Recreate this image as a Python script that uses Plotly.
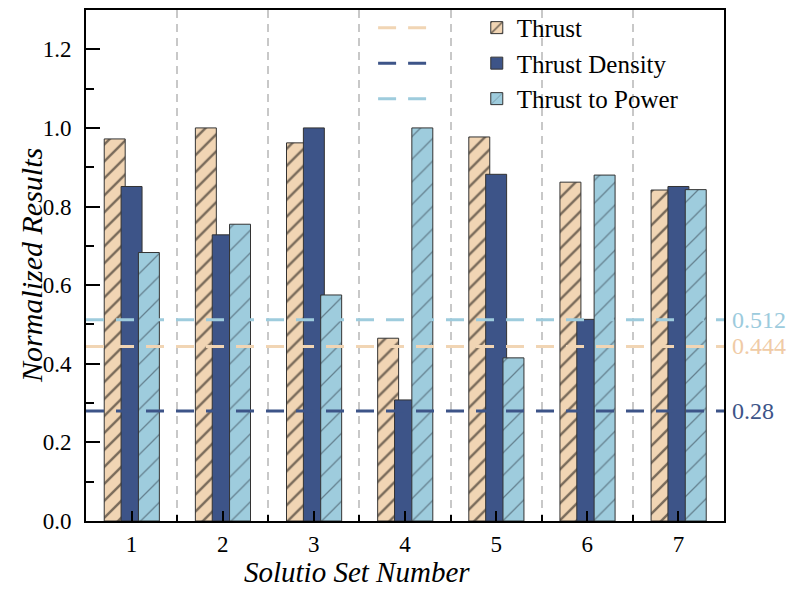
import plotly.graph_objects as go

categories = [1, 2, 3, 4, 5, 6, 7]
tick_labels = ["1", "2", "3", "4", "5", "6", "7"]
thrust = [0.972, 1.0, 0.962, 0.465, 0.977, 0.862, 0.842]
thrust_density = [0.851, 0.728, 1.0, 0.308, 0.882, 0.513, 0.851]
thrust_to_power = [0.683, 0.755, 0.575, 1.0, 0.415, 0.880, 0.843]
series_names = ["Thrust", "Thrust Density", "Thrust to Power"]
averages = [0.444, 0.28, 0.512]
average_labels = ["0.444", "0.28", "0.512"]
x_title = "<i>Solutio Set Number</i>"
y_title = "<i>Normalized Results</i>"

colors = ["#F1D5B4", "#3D5488", "#9ECCDD"]
label_colors = ["#F0CBA6", "#3D5488", "#9CCBDD"]
FONT = "Liberation Serif, Times New Roman, serif"

fig = go.Figure()

# bars
bar_specs = [
    (thrust, dict(shape="/", fgcolor="black", size=12, solidity=0.2), -0.30),
    (thrust_density, None, -0.115),
    (thrust_to_power, dict(shape="/", fgcolor="#2a3440", size=16, solidity=0.08), 0.075),
]
for (vals, pat, off), name, col in zip(bar_specs, series_names, colors):
    marker = dict(color=col, line=dict(color="#333333", width=1))
    if pat:
        marker["pattern"] = pat
    fig.add_trace(go.Bar(x=categories, y=vals, name=name, width=0.23, offset=off,
                         marker=marker, legend="legend2"))

# average lines
for v, col in zip(averages, colors):
    fig.add_trace(go.Scatter(x=[0.5, 7.5], y=[v, v], mode="lines", name=" ",
                             line=dict(color=col, width=3, dash="18px,12px"),
                             legend="legend", hoverinfo="skip"))

for v, lab, col in zip(averages, average_labels, label_colors):
    fig.add_annotation(x=1.0, xref="paper", y=v, yref="y", text=lab, showarrow=False,
                       xanchor="left", xshift=6, font=dict(family=FONT, size=24, color=col))

# axis titles (placed as in the original)
fig.add_annotation(x=0.425, xref="paper", y=-68 / 511, yref="paper", text=x_title,
                   showarrow=False, xanchor="center", yanchor="bottom", borderpad=0,
                   font=dict(family=FONT, size=29, color="black"))
fig.add_annotation(x=-0.0862, xref="paper", y=0.499, yref="paper", text=y_title,
                   showarrow=False, xanchor="center", yanchor="middle", textangle=-90,
                   font=dict(family=FONT, size=30, color="black"))

fig.update_layout(
    width=787, height=589,
    margin=dict(l=86, r=63, t=10, b=68, autoexpand=False),
    plot_bgcolor="white", paper_bgcolor="white",
    barmode="overlay",
    font=dict(family=FONT, size=23, color="black"),
    showlegend=True,
    legend=dict(x=0.45, y=1.01, xanchor="left", yanchor="top", bgcolor="rgba(0,0,0,0)",
                font=dict(family=FONT, size=25), itemwidth=50, traceorder="normal"),
    legend2=dict(x=0.6125, y=1.01, xanchor="left", yanchor="top", bgcolor="rgba(0,0,0,0)",
                 font=dict(family=FONT, size=25), traceorder="normal"),
)

fig.update_xaxes(
    range=[0.5, 7.5], tickmode="array", tickvals=categories, ticktext=tick_labels,
    ticks="inside", ticklen=10, tickwidth=2, tickcolor="black",
    showline=True, linewidth=2, linecolor="black", mirror=True,
    showgrid=False, zeroline=False, automargin=False,
    tickfont=dict(family=FONT, size=23), ticklabelstandoff=1,
    minor=dict(tickmode="linear", tick0=0.5, dtick=1, ticks="inside", ticklen=6,
               tickwidth=2, tickcolor="black", showgrid=True, gridcolor="#C8C8C8",
               gridwidth=2, griddash="8px,6px"),
)
fig.update_yaxes(
    range=[0, 1.3], tickmode="linear", tick0=0, dtick=0.2, tickformat=".1f",
    ticks="inside", ticklen=14, tickwidth=2, tickcolor="black",
    showline=True, linewidth=2, linecolor="black", mirror=True,
    showgrid=False, zeroline=False, automargin=False,
    tickfont=dict(family=FONT, size=23), ticklabelstandoff=8,
    minor=dict(tickmode="linear", tick0=0, dtick=0.1, ticks="inside", ticklen=8,
               tickwidth=2, tickcolor="black", showgrid=False),
)

fig.write_html("out.html", config={"displayModeBar": False},
               post_script="document.body.style.margin='0';")
